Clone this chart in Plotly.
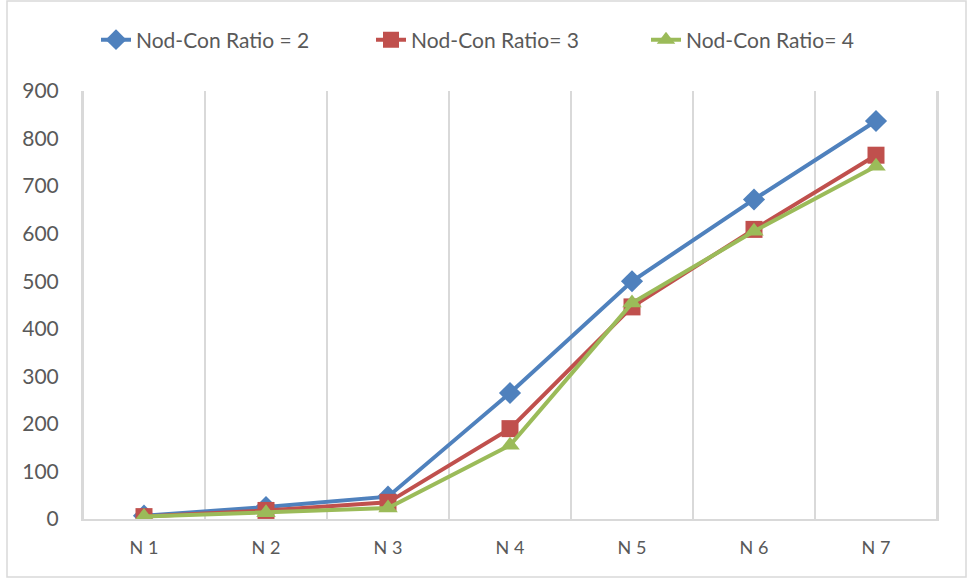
import plotly.graph_objects as go

categories = ["N 1", "N 2", "N 3", "N 4", "N 5", "N 6", "N 7"]
series_names = ["Nod-Con Ratio = 2", "Nod-Con Ratio= 3", "Nod-Con Ratio= 4"]
ratio2 = [7, 25, 47, 265, 500, 672, 837]
ratio3 = [5, 18, 35, 190, 446, 609, 765]
ratio4 = [5, 13, 23, 155, 454, 605, 742]
y_ticks = [0, 100, 200, 300, 400, 500, 600, 700, 800, 900]

colors = ["#4F81BD", "#C0504D", "#9BBB59"]
symbols = ["diamond", "square", "triangle-up"]
sizes = [17, 17, 17]

W, H = 969, 581
L, R, T, B = 83, 937, 91, 519
pw, ph = R - L, B - T

fam = "Lato, Calibri, sans-serif"
txt = "#595959"
grid = "#D9D9D9"
n = len(categories)

fig = go.Figure()

# vertical gridlines at category boundaries (Excel style)
for i in range(n + 1):
    fig.add_shape(type="line", xref="x", yref="paper", x0=i - 0.5, x1=i - 0.5, y0=0, y1=1,
                  line=dict(color=grid, width=2), layer="below")

for name, vals, c, s, sz in zip(series_names, [ratio2, ratio3, ratio4], colors, symbols, sizes):
    fig.add_trace(go.Scatter(
        x=categories, y=vals, name=name, mode="lines+markers",
        line=dict(color=c, width=4),
        marker=dict(symbol=s, size=sz, color=c, line=dict(width=0)),
    ))

fig.update_layout(
    width=W, height=H,
    margin=dict(l=L, r=W - R, t=T, b=H - B),
    paper_bgcolor="white", plot_bgcolor="white",
    font=dict(family=fam, size=21, color=txt),
    showlegend=True,
    legend=dict(orientation="h", x=(96 - L) / pw, xanchor="left", y=(B - 40) / ph, yanchor="middle",
                font=dict(family=fam, size=21, color=txt),
                itemwidth=30, tracegroupgap=0, entrywidth=230, entrywidthmode="pixels"),
    xaxis=dict(type="category", range=[-0.5, n - 0.5],
               showgrid=False,
               showline=True, linecolor=grid, linewidth=2,
               ticks="outside", ticklen=11, tickcolor="rgba(0,0,0,0)",
               tickfont=dict(family=fam, size=18, color=txt), fixedrange=True),
    yaxis=dict(range=[0, 900], tickvals=y_ticks, ticktext=[str(v) for v in y_ticks],
               showgrid=False, zeroline=False,
               showline=True, mirror=True, linecolor=grid, linewidth=2,
               ticks="", ticklabelstandoff=18,
               tickfont=dict(family=fam, size=21, color=txt), fixedrange=True),
)

fig.add_shape(type="rect", xref="paper", yref="paper",
              x0=(7 - L) / pw, x1=(966 - L) / pw,
              y0=(B - 577) / ph, y1=(B - 1) / ph,
              line=dict(color=grid, width=1.5), fillcolor="rgba(0,0,0,0)", layer="below")

fig.write_html("out.html")
